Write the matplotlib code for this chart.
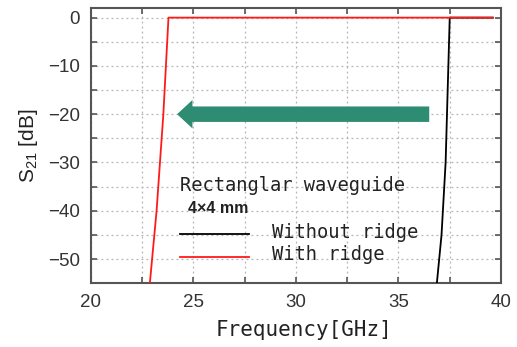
import matplotlib
matplotlib.use("Agg")
import matplotlib.pyplot as plt
from matplotlib.ticker import MultipleLocator

plt.rcParams["font.family"] = ["Liberation Sans", "DejaVu Sans"]
plt.rcParams["mathtext.fontset"] = "custom"
plt.rcParams["mathtext.rm"] = "Liberation Sans"

# Data
red_freq = [22.85, 23.2, 23.53, 23.78, 39.6]
red_s21 = [-56, -40, -20, 0, 0]
black_freq = [36.85, 37.1, 37.3, 37.5, 39.6]
black_s21 = [-56, -45, -30, 0, 0]
arrow_start = 36.5
arrow_end = 24.2
arrow_level = -20

fig = plt.figure(figsize=(5.17, 3.47), dpi=100)
ax = fig.add_axes([0.176, 0.184, 0.793, 0.793])

ax.plot(black_freq, black_s21, color="black", lw=1.3, zorder=3)
ax.plot(red_freq, red_s21, color="#ff1a1a", lw=1.3, zorder=4)

ax.arrow(arrow_start, arrow_level, arrow_end - arrow_start, 0,
         width=3.2, head_width=5.9, head_length=0.75,
         length_includes_head=True, color="#2e8c72", ec="none", zorder=5)

ax.set_xlim(20, 40)
ax.set_ylim(-55, 2)
ax.xaxis.set_major_locator(MultipleLocator(5))
ax.xaxis.set_minor_locator(MultipleLocator(2.5))
ax.yaxis.set_minor_locator(MultipleLocator(5))
ax.set_yticks([0, -10, -20, -30, -40, -50])

ax.grid(True, which="both", ls=(0, (1.5, 2.5)), color="#b5b5b5", lw=0.9)
ax.tick_params(which="both", direction="in", top=True, right=True,
               length=4, width=1.2, color="#555555")
ax.tick_params(which="major", labelsize=13.5, labelcolor="#333333", pad=8)
for s in ax.spines.values():
    s.set_color("#555555")
    s.set_linewidth(1.5)

ax.set_xlabel("Frequency[GHz]", family="DejaVu Sans Mono", fontsize=15,
              color="#222222")
ax.xaxis.set_label_coords(0.52, -0.135)
ax.set_ylabel(r"S$_{\mathregular{21}}$ [dB]", fontsize=15,
              color="#222222", labelpad=6)

# Legend-like annotation
ax.text(24.35, -34.8, "Rectanglar waveguide", family="DejaVu Sans Mono",
        fontsize=13.5, color="#222222", va="center", ha="left")
ax.text(24.75, -39.6, "4×4 mm", fontsize=11.5,
        fontweight="bold", color="#222222", va="center", ha="left")
ax.plot([24.35, 27.7], [-44.8, -44.8], color="black", lw=1.3)
ax.plot([24.35, 27.7], [-49.6, -49.6], color="#ff1a1a", lw=1.3)
ax.text(28.85, -44.6, "Without ridge", family="DejaVu Sans Mono",
        fontsize=13.5, color="#222222", va="center", ha="left")
ax.text(28.85, -49.0, "With ridge", family="DejaVu Sans Mono",
        fontsize=13.5, color="#222222", va="center", ha="left")

fig.savefig("out.png", dpi=100, facecolor="white")
